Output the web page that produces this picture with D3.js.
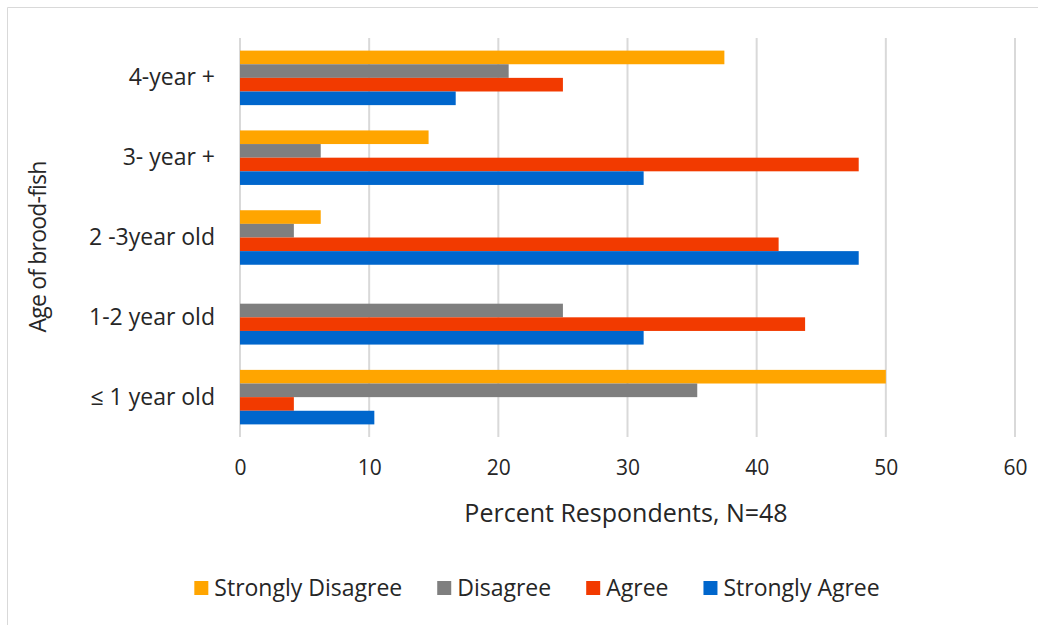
<!DOCTYPE html>
<html>
<head>
<meta charset="utf-8">
<script src="https://cdn.jsdelivr.net/npm/d3@7/dist/d3.min.js"></script>
<style>
  html, body { margin: 0; padding: 0; background: #fff; }
  svg text { font-family: "Open Sans", "Noto Sans", sans-serif; fill: #262626; }
</style>
</head>
<body>
<svg id="chart" width="1048" height="625"></svg>
<script>
// Age groups, top to bottom
const categories = ["4-year +", "3- year +", "2 -3year old", "1-2 year old", "\u2264 1 year old"];
// Response series, in the order bars are stacked within a group (top to bottom)
const seriesNames = ["Strongly Disagree", "Disagree", "Agree", "Strongly Agree"];
const seriesColors = ["#FFA500", "#7F7F7F", "#F23A00", "#0066CC"];
// Percent of respondents (N = 48) per age group, one array per series
const stronglyDisagree = [37.5, 14.6, 6.25, 0, 50];
const disagree = [20.8, 6.25, 4.17, 25, 35.4];
const agree = [25, 47.9, 41.7, 43.75, 4.17];
const stronglyAgree = [16.7, 31.25, 47.9, 31.25, 10.4];
const xTicks = [0, 10, 20, 30, 40, 50, 60];

const seriesValues = [stronglyDisagree, disagree, agree, stronglyAgree];

const svg = d3.select("#chart");

// chart frame
svg.append("path")
  .attr("d", "M7.5,625 L7.5,7.5 L1038,7.5")
  .attr("fill", "none")
  .attr("stroke", "#D9D9D9")
  .attr("stroke-width", 1);

const plot = { left: 240, right: 1015, top: 38, bottom: 437 };

const x = d3.scaleLinear().domain([0, 60]).range([plot.left, plot.right]);
const y = d3.scaleBand().domain(categories).range([plot.top, plot.bottom]).paddingInner(0.317).paddingOuter(0.158);
const ySub = d3.scaleBand().domain(seriesNames).range([0, y.bandwidth()]);

// vertical gridlines
svg.append("g").selectAll("line").data(xTicks).join("line")
  .attr("x1", d => x(d)).attr("x2", d => x(d))
  .attr("y1", plot.top).attr("y2", plot.bottom)
  .attr("stroke", "#D9D9D9").attr("stroke-width", 2);

// bars
const groups = svg.append("g").selectAll("g").data(categories).join("g")
  .attr("transform", c => `translate(0,${y(c)})`);

groups.selectAll("rect")
  .data((c, i) => seriesNames.map((s, k) => ({ s, k, v: seriesValues[k][i] })))
  .join("rect")
  .attr("x", x(0))
  .attr("y", d => ySub(d.s))
  .attr("width", d => x(d.v) - x(0))
  .attr("height", ySub.bandwidth())
  .attr("fill", d => seriesColors[d.k]);

// x tick labels
const xAxis = svg.append("g")
  .attr("transform", `translate(0,${plot.bottom})`)
  .call(d3.axisBottom(x).tickValues(xTicks).tickSize(0).tickPadding(23));
xAxis.select(".domain").remove();
xAxis.selectAll("text")
  .attr("font-size", 21)
  .attr("fill", "#262626")
  .style("font-family", '"Open Sans", sans-serif');

// category labels
const yAxis = svg.append("g")
  .attr("transform", `translate(${plot.left},0)`)
  .call(d3.axisLeft(y).tickSize(0).tickPadding(25));
yAxis.select(".domain").remove();
yAxis.selectAll("text")
  .attr("font-size", 23)
  .attr("fill", "#262626")
  .style("font-family", '"Open Sans", sans-serif');

// axis titles
svg.append("text")
  .attr("x", 626)
  .attr("y", 522)
  .attr("text-anchor", "middle")
  .attr("font-size", 25)
  .text("Percent Respondents, N=48");

svg.append("text")
  .attr("transform", "translate(46,247) rotate(-90)")
  .attr("text-anchor", "middle")
  .attr("font-size", 23)
  .attr("letter-spacing", -0.8)
  .text("Age of brood-fish");

// legend
const legend = svg.append("g").attr("transform", "translate(0,588)");
const items = legend.selectAll("g").data(seriesNames).join("g");
items.append("rect")
  .attr("width", 14).attr("height", 14)
  .attr("y", -7)
  .attr("fill", (d, i) => seriesColors[i]);
items.append("text")
  .attr("x", 20)
  .attr("y", 8)
  .attr("font-size", 23)
  .text(d => d);

let cursor = 0;
const offsets = [];
items.each(function () {
  offsets.push(cursor);
  const w = 20 + d3.select(this).select("text").node().getComputedTextLength();
  cursor += w + 35;
});
const totalW = cursor - 35;
const startX = 537 - totalW / 2;
items.attr("transform", (d, i) => `translate(${startX + offsets[i]},0)`);
</script>
</body>
</html>
